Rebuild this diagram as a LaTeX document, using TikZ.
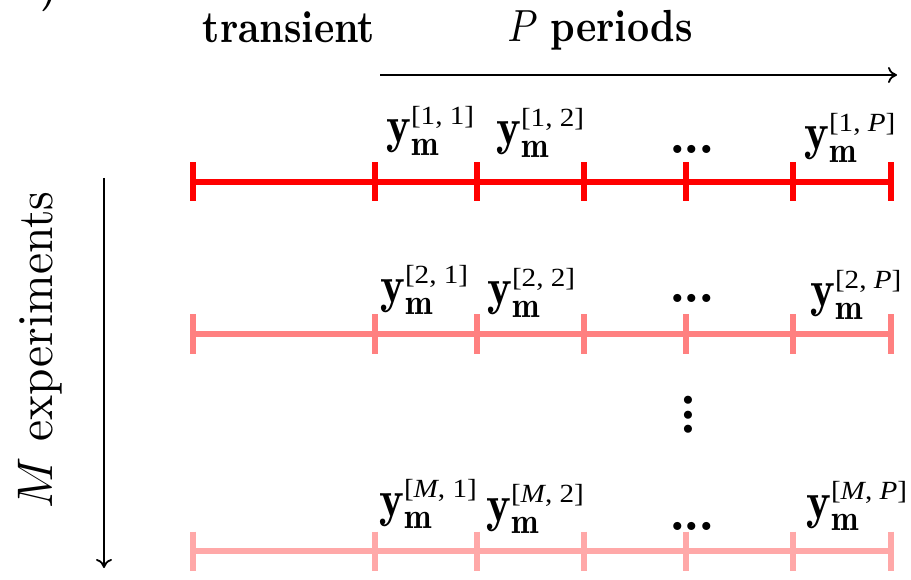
\documentclass[tikz,border=0pt]{standalone}
\usepackage{amsmath}
\usepackage{fontspec}
\newfontfamily\supfont{Liberation Serif}
\usetikzlibrary{arrows.meta}
\definecolor{rowA}{RGB}{255,0,0}
\definecolor{rowB}{RGB}{255,128,128}
\definecolor{rowC}{RGB}{255,168,168}
\newcommand\supbox[2]{\hbox{\fontsize{6.2}{7}\supfont\scalebox{1}[0.82]{[#1, #2]}}}
\newcommand\ylab[2]{\scalebox{4.7}[5.15]{$\mathbf{y}_{\mathbf{m}}^{\supbox{#1}{#2}}$}}
\newcommand\hdotsbig{\scalebox{5.2}[5.2]{\textbf{.\kern-0.4pt.\kern-0.4pt.}}}
\newcommand\bigtxt[1]{\scalebox{3.85}[4.5]{#1}}
\begin{document}
\begin{tikzpicture}[x=1pt,y=-1pt,
  lbl/.style={inner sep=0pt, anchor=base west},
  ctr/.style={inner sep=0pt, anchor=base},
  tline/.style={line width=5.5pt},
  tickmark/.style={line width=6.5pt},
  axis/.style={line width=1.8pt, -{To[length=9pt,width=16pt]}}]
\useasboundingbox (0,0) rectangle (911,580);

% cropped fragment at top left
\node[inner sep=0pt, anchor=south west] (paren) at (40,12) {\bigtxt{\textbf{)}}};

% headers
\node[ctr] (trans) at (289,43) {\bigtxt{\textbf{transient}}};
\node[ctr] (per) at (600,42) {\bigtxt{$P$ \textbf{periods}}};
\coordinate (ha) at (380,75);
\coordinate (hb) at (897,75);
\draw[axis] (ha) -- (hb);

% M experiments
\node[inner sep=0pt, anchor=base, rotate=90] (mexp) at (52,350) {\scalebox{4.75}[5.0]{$M$ experiments}};
\coordinate (va) at (104,178);
\coordinate (vb) at (104,568);
\draw[axis] (va) -- (vb);

% timelines
\foreach \r/\y/\c in {1/182/rowA, 2/334/rowB, 3/551/rowC}{
  \foreach \x [count=\i] in {193,375,477,584,686,793,891}
    \coordinate (r\r-\i) at (\x,\y);
  \draw[tline,\c] (r\r-1) -- (r\r-7);
  \foreach \i in {1,...,7}
    \draw[tickmark,\c] ([yshift=19.5pt]r\r-\i) -- ([yshift=-19.5pt]r\r-\i);
}

% row 1 labels
\node[lbl] (l11) at (386,143) {\ylab{1}{1}};
\node[lbl] (l12) at (496,145) {\ylab{1}{2}};
\node[ctr] (d1) at (692,154) {\hdotsbig};
\node[lbl] (l1P) at (804,150) {\ylab{1}{\textit{P}}};

% row 2 labels
\node[lbl] (l21) at (380,302) {\ylab{2}{1}};
\node[lbl] (l22) at (487,305) {\ylab{2}{2}};
\node[ctr] (d2) at (692,303) {\hdotsbig};
\node[lbl] (l2P) at (810,307) {\ylab{2}{\textit{P}}};

% vertical dots
\node[ctr, rotate=90] (vd) at (692,415) {\hdotsbig};

% row M labels
\node[lbl] (lM1) at (379,516) {\ylab{\textit{M}}{1}};
\node[lbl] (lM2) at (486,521) {\ylab{\textit{M}}{2}};
\node[ctr] (dM) at (692,530) {\hdotsbig};
\node[lbl] (lMP) at (806,518) {\ylab{\textit{M}}{\textit{P}}};
\end{tikzpicture}
\end{document}
